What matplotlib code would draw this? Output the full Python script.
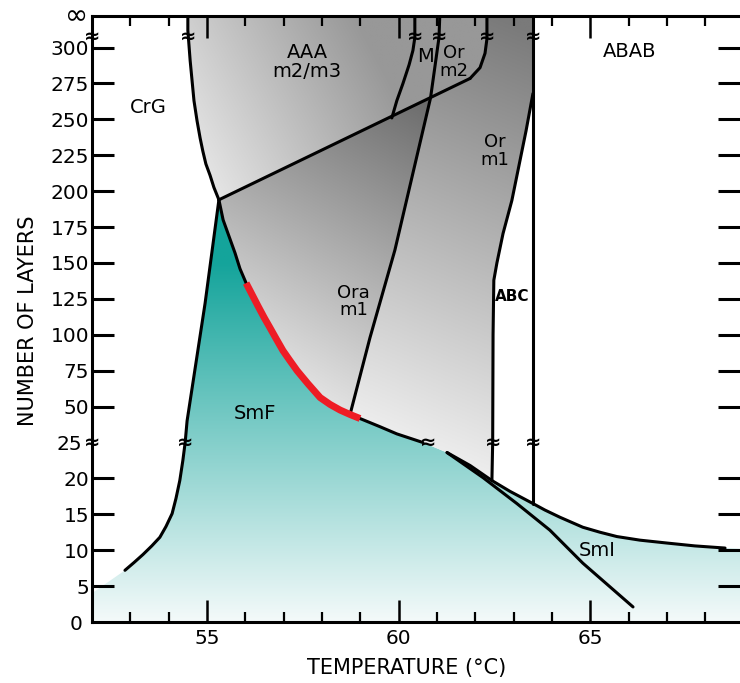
import numpy as np
import matplotlib
matplotlib.use("Agg")
import matplotlib.pyplot as plt
import matplotlib.colors as mcolors
from matplotlib.patches import Polygon

# Phase boundaries: temperature (C), number of layers

# CrG / AAA boundary, top of chart down to the triple point
crg_T = [54.50, 54.50, 54.53, 54.56, 54.61, 54.66, 54.74, 54.82, 54.89,
         54.97, 55.08, 55.18, 55.31]
crg_N = [322, 312, 301.5, 291, 277, 263, 249, 237, 228, 219, 211, 202.6, 194]

# upper edge of SmF (below the triple point)
smf_T = [55.31, 55.42, 55.73, 55.86, 56.02, 56.33, 56.49, 56.64, 56.80,
         56.98, 57.16, 57.35, 57.63, 57.95, 58.21, 58.47, 58.73, 58.99,
         59.51, 59.95, 60.63]
smf_N = [194, 180, 157, 146, 136, 120, 112, 105, 97.4, 89, 82.1, 75, 66,
         56.3, 51.5, 47.6, 44.5, 41.7, 36, 31, 25]
RED_FROM, RED_TO = 4, 18     # highlighted stretch of the SmF edge
ORA_START = 16               # where the Ora line leaves the SmF edge

# left edge of SmF
left_T = [55.31, 54.95, 54.48, 54.43, 54.37, 54.29, 54.19, 54.09, 53.93,
          53.77, 53.56, 53.33, 53.10, 52.86]
left_N = [194, 122, 40, 25, 22.5, 19.7, 17.2, 15.1, 13.3, 11.8, 10.6, 9.4,
          8.3, 7.2]

# triple point -> Or m2 line
diag_T = [55.31, 61.86]
diag_N = [194, 278.5]

m_T = [59.82, 59.95, 60.11, 60.27, 60.37, 60.42, 60.42]
m_N = [251, 263, 275, 288, 298, 307, 322]

ora_T = [58.73, 59.25, 59.90, 60.83, 60.94, 61.05, 61.07]
ora_N = [44.5, 98, 159, 265, 286, 307, 322]
ORA_CROSS = 3                # Ora line meets the diagonal here

orm2_T = [61.86, 62.12, 62.25, 62.30, 62.30]
orm2_N = [278.5, 286, 296, 306, 322]

# Or m1 / ABC boundary
abc_T = [63.5, 63.32, 62.95, 62.72, 62.56, 62.48, 62.46, 62.45, 62.43]
abc_N = [268, 242, 193.5, 170.5, 150, 138, 100, 25, 19.7]

# ABC / ABAB boundary
ab_T = [63.5, 63.5]
ab_N = [322, 16.5]

# SmI wedge
smi_up_T = [61.26, 61.86, 62.43, 62.90, 63.5, 63.81, 64.20, 64.80, 65.25,
            65.69, 66.29, 66.99, 67.72, 68.51]
smi_up_N = [23.6, 21.8, 19.7, 18.2, 16.5, 15.6, 14.6, 13.2, 12.5, 11.9,
            11.4, 11.0, 10.6, 10.3]
smi_lo_T = [61.26, 62.20, 63.08, 63.94, 64.80, 66.11]
smi_lo_N = [23.6, 20.1, 16.5, 12.8, 8.2, 2.1]

# where the filled SmF area meets the axes
fill_left_N = 4.0
fill_right_N = 10.2

labels = [
    ("CrG", 53.46, 258, 14),
    ("AAA\nm2/m3", 57.61, 290, 14),
    ("M", 60.70, 294, 14),
    ("Or\nm2", 61.44, 290, 13),
    ("Or\nm1", 62.51, 228, 13),
    ("Ora\nm1", 58.83, 123, 13),
    ("ABAB", 66.03, 297, 14),
    ("SmF", 56.25, 45, 14),
    ("SmI", 65.17, 10.0, 14),
]

breaks = [(52.0, 25), (54.43, 25), (60.76, 25), (62.45, 25), (63.5, 25),
          (52.0, 308), (54.50, 308), (60.42, 308), (61.05, 308),
          (62.30, 308), (63.5, 308)]

low_ticks = [5, 10, 15, 20]
high_ticks = [50, 75, 100, 125, 150, 175, 200, 225, 250, 275, 300]
x_major = [55, 60, 65]

XMIN, XMAX = 52.0, 68.9
BREAK = 25
SQUEEZE = 0.2
YTOP = 322


def _fwd(n):
    n = np.asarray(n, dtype=float)
    return np.where(n <= BREAK, n, BREAK + (n - BREAK) * SQUEEZE)


def _inv(t):
    t = np.asarray(t, dtype=float)
    return np.where(t <= BREAK, t, BREAK + (t - BREAK) / SQUEEZE)


def shade(ax, T, N, p0, p1, c0, c1, zorder=1):
    """Linear gradient from p0 to p1 (data coords), clipped to a polygon."""
    bb = ax.bbox
    u = np.linspace(0, 1, 600)
    v = np.linspace(0, 1, 600)
    X = bb.x0 + u[None, :] * bb.width
    Y = bb.y0 + v[:, None] * bb.height
    d0 = ax.transData.transform(p0)
    d1 = ax.transData.transform(p1)
    dx, dy = d1 - d0
    s = ((X - d0[0]) * dx + (Y - d0[1]) * dy) / (dx * dx + dy * dy)
    s = np.clip(s, 0, 1)
    a = np.array(mcolors.to_rgb(c0))
    b = np.array(mcolors.to_rgb(c1))
    img = a + (b - a) * s[..., None]
    im = ax.imshow(img, extent=(0, 1, 0, 1), transform=ax.transAxes,
                   origin="lower", aspect="auto", interpolation="bilinear",
                   zorder=zorder)
    poly = Polygon(list(zip(T, N)), closed=True, transform=ax.transData,
                   facecolor="none", edgecolor="none")
    im.set_clip_path(poly)
    return im


plt.rcParams.update({"font.family": "DejaVu Sans"})

fig = plt.figure(figsize=(7.4, 6.83), dpi=100)
ax = fig.add_axes([0.1243, 0.0893, 0.8757, 0.8873])
ax.set_yscale("function", functions=(_fwd, _inv))
ax.set_xlim(XMIN, XMAX)
ax.set_ylim(0, YTOP)

# SmF / SmI area
teal_T = [XMIN, XMIN] + left_T[::-1] + smf_T[1:] + smi_up_T + [XMAX, XMAX]
teal_N = ([0, fill_left_N] + left_N[::-1] + smf_N[1:] + smi_up_N
          + [fill_right_N, 0])
shade(ax, teal_T, teal_N, (58, 0), (58, 150), "#f4fafa", "#14a49b")

# Ora m1: below the diagonal, left of the Ora line
oa_T = smf_T[:ORA_START + 1] + ora_T[1:ORA_CROSS + 1]
oa_N = smf_N[:ORA_START + 1] + ora_N[1:ORA_CROSS + 1]
shade(ax, oa_T, oa_N, (55.95, 33), (60.83, 265), "#fbfbfb", "#6a6a6a")

# Or m1: right of the Ora line
om_T = (smf_T[ORA_START:] + smi_up_T[:3] + abc_T[::-1] + [63.5]
        + orm2_T[::-1] + ora_T[ORA_CROSS::-1])
om_N = (smf_N[ORA_START:] + smi_up_N[:3] + abc_N[::-1] + [YTOP]
        + orm2_N[::-1] + ora_N[ORA_CROSS::-1])
shade(ax, om_T, om_N, (58.99, 26), (63.42, 312), "#f2f2f2", "#7a7a7a")

# AAA, M and Or m2: above the diagonal
aaa_T = crg_T + diag_T[1:] + orm2_T[1:]
aaa_N = crg_N + diag_N[1:] + orm2_N[1:]
shade(ax, aaa_T, aaa_N, (55.21, 193.5), (60.03, 263), "#e6e6e6", "#989898")

# boundaries
kw = dict(color="black", lw=2.2, zorder=3, solid_capstyle="round")
for xs, ys in [(crg_T, crg_N), (smf_T, smf_N), (left_T, left_N),
               (diag_T, diag_N), (m_T, m_N), (ora_T, ora_N),
               (orm2_T, orm2_N), (abc_T, abc_N), (ab_T, ab_N),
               (smi_up_T, smi_up_N), (smi_lo_T, smi_lo_N)]:
    ax.plot(xs, ys, **kw)
ax.plot(smf_T[RED_FROM:RED_TO], smf_N[RED_FROM:RED_TO], color="#ee1c25",
        lw=5, zorder=4, solid_capstyle="butt")

for t, n in breaks:
    ax.text(t, n, "\u2248", ha="center", va="center", fontsize=14,
            fontweight="bold", zorder=5, clip_on=False)

for txt, t, n, fs in labels:
    ax.text(t, n, txt, ha="center", va="center", fontsize=fs,
            linespacing=0.95, zorder=5)
ax.text(62.95, 127, "ABC", ha="center", va="center", fontsize=11,
        fontweight="bold", family=["Liberation Sans Narrow", "DejaVu Sans"],
        zorder=5)

# axes styling
for side in ["left", "top", "bottom"]:
    ax.spines[side].set_linewidth(2.2)
ax.spines["right"].set_visible(False)

ax.set_xticks(x_major)
ax.set_xticks(np.arange(53, 69), minor=True)
ax.set_yticks(low_ticks + high_ticks)
ax.set_yticklabels([str(v) for v in low_ticks + high_ticks])
ax.set_yticks([0, BREAK], minor=True)
ax.set_yticklabels(["0", "25"], minor=True)

ax.tick_params(axis="x", which="major", direction="in", length=16, width=1.8,
               top=True, labelsize=14.5, pad=5)
ax.tick_params(axis="x", which="minor", direction="in", length=7, width=1.6,
               top=True)
ax.tick_params(axis="y", which="major", direction="in", length=16, width=2.2,
               right=True, labelsize=14.5, pad=2)
ax.tick_params(axis="y", which="minor", length=0, labelsize=14.5, pad=7)

ax.text(51.6, YTOP, "\u221e", ha="center", va="center", fontsize=20,
        clip_on=False)

fig.text(0.038, 0.53, "NUMBER OF LAYERS", rotation=90, ha="center",
         va="center", fontsize=15)
fig.text(0.55, 0.022, "TEMPERATURE (\u00b0C)", ha="center", va="center",
         fontsize=15)

fig.savefig("out.png", dpi=100)
